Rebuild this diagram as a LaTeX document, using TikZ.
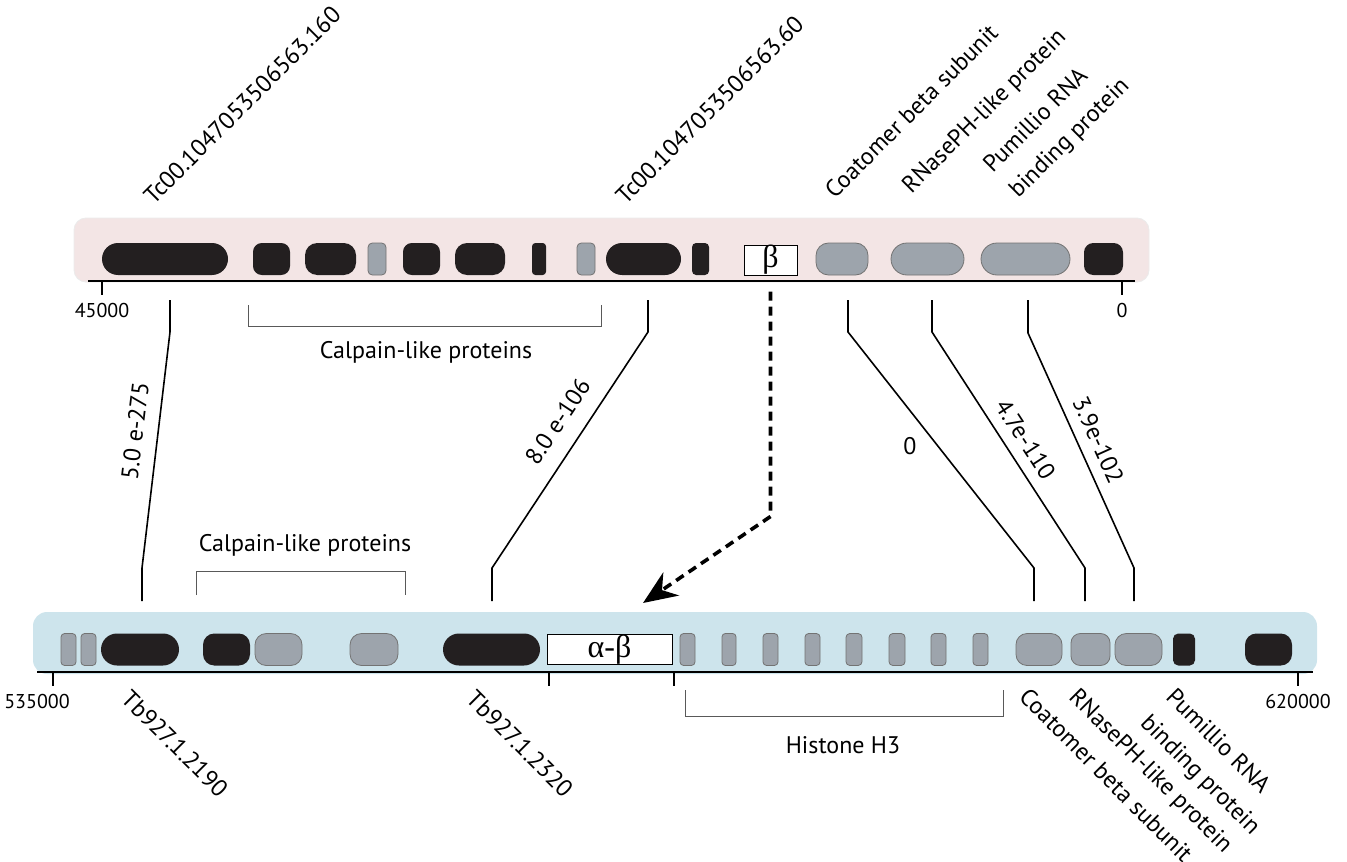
\documentclass[tikz,border=0pt]{standalone}
\usepackage{fontspec}
\setsansfont{PT Sans}
\newfontfamily\greekfont{Liberation Serif}
\usetikzlibrary{calc,arrows.meta}
\definecolor{pinkbar}{HTML}{F3E5E5}
\definecolor{bluebar}{HTML}{CDE4EC}
\definecolor{genedark}{HTML}{231F20}
\definecolor{genelight}{HTML}{9DA4AC}

\begin{document}
\begin{tikzpicture}[x=0.5pt, y=-0.5pt, >=Stealth,
  every node/.style={font=\sffamily\fontsize{12}{18}\selectfont},
  gene/.style={minimum height=16pt, inner sep=0pt},
  dk/.style={fill=genedark},
  lt/.style={fill=genelight, draw=black!55, line width=0.4pt},
  tbox/.style={draw, fill=white, line width=0.5pt, minimum height=15pt, inner sep=0pt,
    font=\greekfont\fontsize{16}{16}\selectfont},
  axisline/.style={line width=1.3pt},
  tickmark/.style={line width=1.1pt},
  link/.style={line width=0.8pt},
  bracket/.style={draw=black!65, line width=0.5pt},
  coordlbl/.style={font=\sffamily\fontsize{10}{12}\selectfont},
  uplbl/.style={rotate=45, anchor=south west, inner sep=0pt, align=left},
  downlbl/.style={rotate=-45, anchor=north west, inner sep=0pt, align=left},
  dasharrow/.style={line width=1.8pt, dash pattern=on 4.5pt off 3pt, -{Stealth[length=17pt,width=14pt]}}]
  \useasboundingbox (0,0) rectangle (1347,861);

  % T. cruzi contig (top)
  \fill[pinkbar, draw=black!8, rounded corners=6pt] (74,218) rectangle (1149,282);
  \draw[axisline] (88,281) -- (1135,281);
  \foreach \a/\b/\k in {102/228/dk, 253/290/dk, 305/356/dk, 368/386/lt, 403/440/dk,
      455/505/dk, 532/546/dk, 577/595/lt, 606/681/dk, 692/709/dk, 816/868/lt,
      891/964/lt, 981/1070/lt, 1084/1123/dk}{
    \pgfmathsetmacro\rr{min(8,(\b-\a)*0.12)}
    \pgfmathsetmacro\ww{(\b-\a)*0.5}
    \node[gene, \k, rounded corners=\rr pt, minimum width=\ww pt] (top\a) at ({(\a+\b)/2},259) {};
  }
  \node[tbox, minimum width=26.5pt] (tbeta) at (770.5,260) {β};
  \draw[tickmark] (102,281) -- ++(0,14) node[below, coordlbl] (tc45000) {45000};
  \draw[tickmark] (1122,281) -- ++(0,14) node[below, coordlbl] (tc0) {0};

  \draw[bracket] (248,305) -- (248,326) -- (601,326) -- (601,305);
  \node (calpTop) at (426,352) {Calpain-like proteins};

  \node[uplbl] (lblTcA) at (154,206) {Tc00.1047053506563.160};
  \node[uplbl] (lblTcB) at (626,206) {Tc00.1047053506563.60};
  \node[uplbl] (lblTcC) at (835,200) {Coatomer beta subunit};
  \node[uplbl] (lblTcD) at (915,198) {RNasePH-like protein};
  \node[uplbl] (lblTcE) at (1022,203) {Pumillio RNA\\binding protein};

  % T. brucei contig (bottom)
  \fill[bluebar, rounded corners=7pt] (33,612) rectangle (1317,674);
  \draw[axisline] (37,672) -- (1313,672);
  \foreach \a/\b/\k in {61/76/lt, 81/96/lt, 101/179/dk, 203/250/dk, 255/302/lt,
      350/398/lt, 443/540/dk, 680/695/lt, 722/736/lt, 763/778/lt, 805/820/lt,
      846/862/lt, 889/905/lt, 931/946/lt, 973/988/lt, 1016/1062/lt, 1071/1110/lt,
      1115/1162/lt, 1173/1195/dk, 1245/1292/dk}{
    \pgfmathsetmacro\rr{min(8,(\b-\a)*0.12)}
    \pgfmathsetmacro\ww{(\b-\a)*0.5}
    \node[gene, \k, rounded corners=\rr pt, minimum width=\ww pt] (bot\a) at ({(\a+\b)/2},649.5) {};
  }
  \node[tbox, minimum width=62.5pt] (tbab) at (609.5,649.5) {α-β};
  \draw[tickmark] (53,672) -- ++(0,14) node[below, coordlbl, xshift=-8pt] (tb535) {535000};
  \draw[tickmark] (549,672) -- ++(0,14);
  \draw[tickmark] (674,672) -- ++(0,14);
  \draw[tickmark] (1298,672) -- ++(0,14) node[below, coordlbl] (tb620) {620000};

  \draw[bracket] (196,595) -- (196,571) -- (405,571) -- (405,595);
  \node (calpBot) at (305,545) {Calpain-like proteins};
  \draw[bracket] (685,690) -- (685,716) -- (1003,716) -- (1003,690);
  \node (histone) at (843,745) {Histone H3};

  \node[downlbl] (lblTbA) at (132,688) {Tb927.1.2190};
  \node[downlbl] (lblTbB) at (477,688) {Tb927.1.2320};
  \node[downlbl] (lblTbC) at (1030,686) {Coatomer beta subunit};
  \node[downlbl] (lblTbD) at (1080,686) {RNasePH-like protein};
  \node[downlbl] (lblTbE) at (1177,686) {Pumillio RNA\\binding protein};

  % orthologue links
  \coordinate (tA) at (170,300); \coordinate (bA) at (142,601);
  \coordinate (tB) at (648,300); \coordinate (bB) at (492,601);
  \coordinate (tC) at (848,300); \coordinate (bC) at (1034,601);
  \coordinate (tD) at (932,300); \coordinate (bD) at (1085,601);
  \coordinate (tE) at (1028,300); \coordinate (bE) at (1134,601);
  \draw[link] (tA) -- ++(0,32) -- node[pos=.43, sloped, above=3.5pt] {5.0 e-275} ($(bA)+(0,-33)$) -- (bA);
  \draw[link] (tB) -- ++(0,32) -- node[pos=.44, sloped, above=5pt] {8.0 e-106} ($(bB)+(0,-33)$) -- (bB);
  \draw[link] (tC) -- ++(0,32) -- node[pos=.43, xshift=-9pt, yshift=-6.5pt] {0} ($(bC)+(0,-33)$) -- (bC);
  \draw[link] (tD) -- ++(0,32) -- node[pos=.5, sloped, above=2pt] {4.7e-110} ($(bD)+(0,-33)$) -- (bD);
  \draw[link] (tE) -- ++(0,33) -- node[pos=.49, sloped, above=2pt] {3.9e-102} ($(bE)+(0,-33)$) -- (bE);

  % beta copy moves into the alpha-beta locus
  \coordinate (arrtip) at (643,603);
  \draw[dasharrow] ($(tbeta.south)+(0,16)$) -- ++(0,225) -- (arrtip);
\end{tikzpicture}
\end{document}
